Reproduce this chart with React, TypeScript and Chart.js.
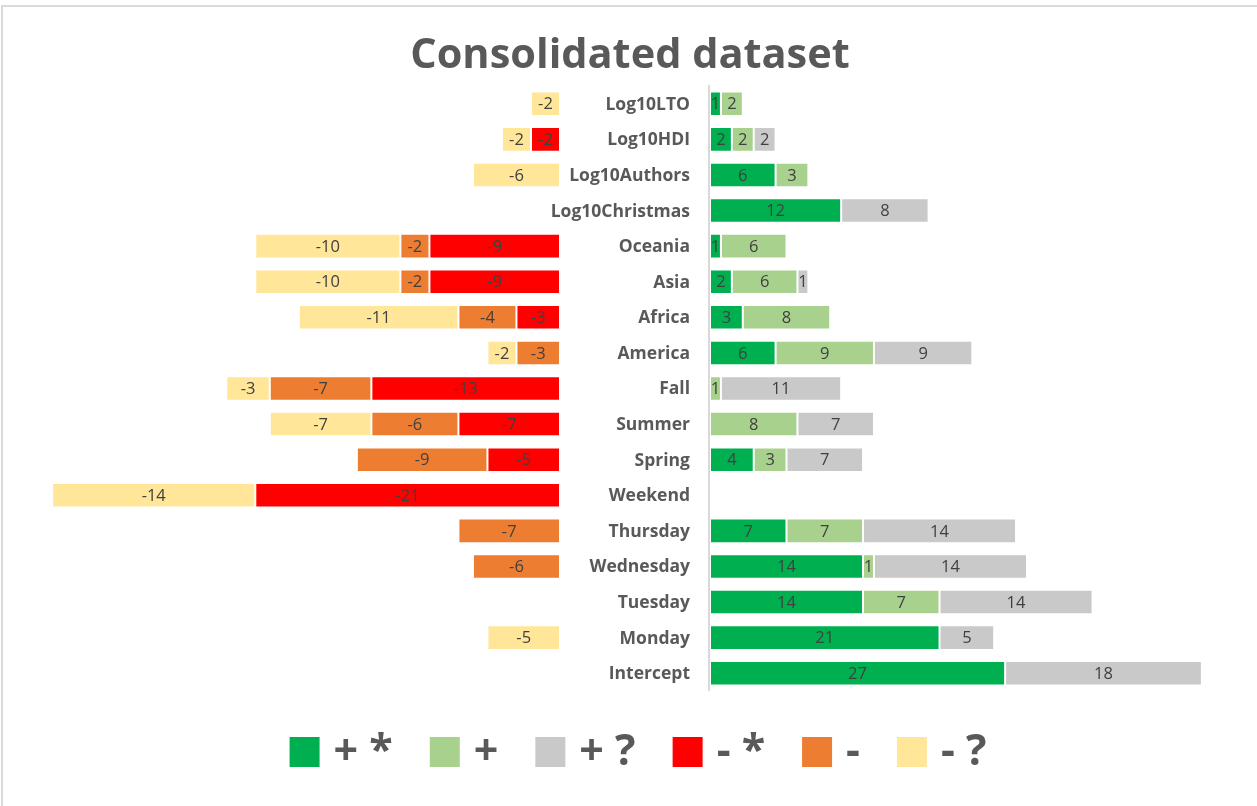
import React, { useEffect, useRef } from "react";
import { Chart, registerables } from "chart.js";

Chart.register(...registerables);

const categories = [
  "Log10LTO", "Log10HDI", "Log10Authors", "Log10Christmas", "Oceania", "Asia",
  "Africa", "America", "Fall", "Summer", "Spring", "Weekend", "Thursday",
  "Wednesday", "Tuesday", "Monday", "Intercept",
];

const posSig = [1, 2, 6, 12, 1, 2, 3, 6, 0, 0, 4, 0, 7, 14, 14, 21, 27];
const posNs = [2, 2, 3, 0, 6, 6, 8, 9, 1, 8, 3, 0, 7, 1, 7, 0, 0];
const posUnk = [0, 2, 0, 8, 0, 1, 0, 9, 11, 7, 7, 0, 14, 14, 14, 5, 18];
const negSig = [0, -2, 0, 0, -9, -9, -3, 0, -13, -7, -5, -21, 0, 0, 0, 0, 0];
const negNs = [0, 0, 0, 0, -2, -2, -4, -3, -7, -6, -9, 0, -7, -6, 0, 0, 0];
const negUnk = [-2, -2, -6, 0, -10, -10, -11, -2, -3, -7, 0, -14, 0, 0, 0, -5, 0];

const seriesLabels = ["+ *", "+", "+ ?", "- *", "-", "- ?"];
const seriesColors = ["#00B050", "#A9D18E", "#C9C9C9", "#FF0000", "#ED7D31", "#FFE699"];

const TITLE = "Consolidated dataset";
const FONT = "'Open Sans', sans-serif";
const TEXT = "#595959";
const LABEL = "#404040";

// pixel geometry of the two value axes
const NEG_ZERO = 560;
const NEG_PX = 14.51;
const POS_ZERO = 710;
const POS_PX = 10.93;
const AREA_L = 52;
const AREA_R = 1210;

const nz = (a: number[]) => a.map((v) => (v === 0 ? null : v));

const overlay = {
  id: "overlay",
  beforeDatasetsDraw(chart: any) {
    const ctx = chart.ctx;
    const area = chart.chartArea;
    const xp = chart.scales.xp;
    const x0 = Math.round(xp.getPixelForValue(0)) - 1;
    ctx.save();
    ctx.strokeStyle = "#D9D9D9";
    ctx.lineWidth = 2;
    ctx.beginPath();
    ctx.moveTo(x0, area.top - 1);
    ctx.lineTo(x0, area.bottom);
    ctx.stroke();
    ctx.restore();
  },
  afterDatasetsDraw(chart: any) {
    const ctx = chart.ctx;
    ctx.save();
    // value labels
    ctx.font = `16.5px ${FONT}`;
    ctx.fillStyle = LABEL;
    ctx.textAlign = "center";
    ctx.textBaseline = "middle";
    chart.data.datasets.forEach((ds: any, i: number) => {
      const meta = chart.getDatasetMeta(i);
      meta.data.forEach((el: any, j: number) => {
        const v = ds.data[j];
        if (v === null || v === 0) return;
        const cx = (el.x + el.base) / 2;
        ctx.fillText(String(Math.round(v)), cx, el.y + 1);
      });
    });
    // category labels
    const ys = chart.scales.y;
    const xp = chart.scales.xp;
    ctx.font = `bold 17.5px ${FONT}`;
    ctx.fillStyle = TEXT;
    ctx.textAlign = "right";
    categories.forEach((c, j) => {
      ctx.fillText(c, xp.getPixelForValue(0) - 20, ys.getPixelForValue(j) + 1);
    });
    ctx.restore();
  },
  afterDraw(chart: any) {
    const ctx = chart.ctx;
    ctx.save();
    // title
    ctx.font = `bold 41.5px ${FONT}`;
    ctx.fillStyle = TEXT;
    ctx.textAlign = "center";
    ctx.textBaseline = "middle";
    ctx.fillText(TITLE, 630, 56);
    // legend
    ctx.font = `bold 43px ${FONT}`;
    const box = 30;
    const gapBox = 14;
    const gapItem = 37;
    const widths = seriesLabels.map((s) => ctx.measureText(s).width);
    const total = widths.reduce((a, w) => a + box + gapBox + w, 0) + gapItem * (seriesLabels.length - 1);
    let x = 638 - total / 2;
    const cy = 752;
    ctx.textAlign = "left";
    seriesLabels.forEach((s, i) => {
      ctx.fillStyle = seriesColors[i];
      ctx.fillRect(x, cy - box / 2, box, box);
      x += box + gapBox;
      ctx.fillStyle = TEXT;
      ctx.fillText(s, x, cy + 1);
      x += widths[i] + gapItem;
    });
    ctx.restore();
  },
};

export default function App() {
  const ref = useRef<HTMLCanvasElement>(null);
  useEffect(() => {
    if (!ref.current) return;
    const series = [posSig, posNs, posUnk, negSig, negNs, negUnk];
    const chart = new Chart(ref.current, {
      type: "bar",
      data: {
        labels: categories,
        datasets: series.map((d, i) => ({
          label: seriesLabels[i],
          data: nz(d),
          backgroundColor: seriesColors[i],
          borderColor: "rgba(255,255,255,0.7)",
          borderWidth: 1,
          borderSkipped: false,
          xAxisID: i < 3 ? "xp" : "xn",
          barPercentage: 0.69,
          categoryPercentage: 1,
        })),
      },
      options: {
        indexAxis: "y",
        responsive: false,
        animation: false,
        layout: { padding: { left: AREA_L, right: 1257 - AREA_R, top: 86, bottom: 806 - 691 } },
        plugins: {
          legend: { display: false },
          title: { display: false },
          tooltip: { enabled: false },
        },
        scales: {
          y: { type: "category", display: false, stacked: true, offset: true, grid: { display: false } },
          xp: {
            type: "linear",
            display: false,
            stacked: true,
            min: (AREA_L - POS_ZERO) / POS_PX,
            max: (AREA_R - POS_ZERO) / POS_PX,
          },
          xn: {
            type: "linear",
            display: false,
            stacked: true,
            min: (AREA_L - NEG_ZERO) / NEG_PX,
            max: (AREA_R - NEG_ZERO) / NEG_PX,
          },
        },
      } as any,
      plugins: [overlay],
    });
    return () => chart.destroy();
  }, []);

  return (
    <div style={{ position: "absolute", left: 0, top: 0, width: 1257, height: 806, background: "#fff" }}>
      <div
        style={{
          position: "absolute",
          left: 1,
          top: 5,
          right: 0,
          bottom: -10,
          borderTop: "2px solid #D9D9D9",
          borderLeft: "2px solid #D9D9D9",
        }}
      />
      <canvas ref={ref} width={1257} height={806} style={{ position: "absolute", left: 0, top: 0, display: "block" }} />
    </div>
  );
}
